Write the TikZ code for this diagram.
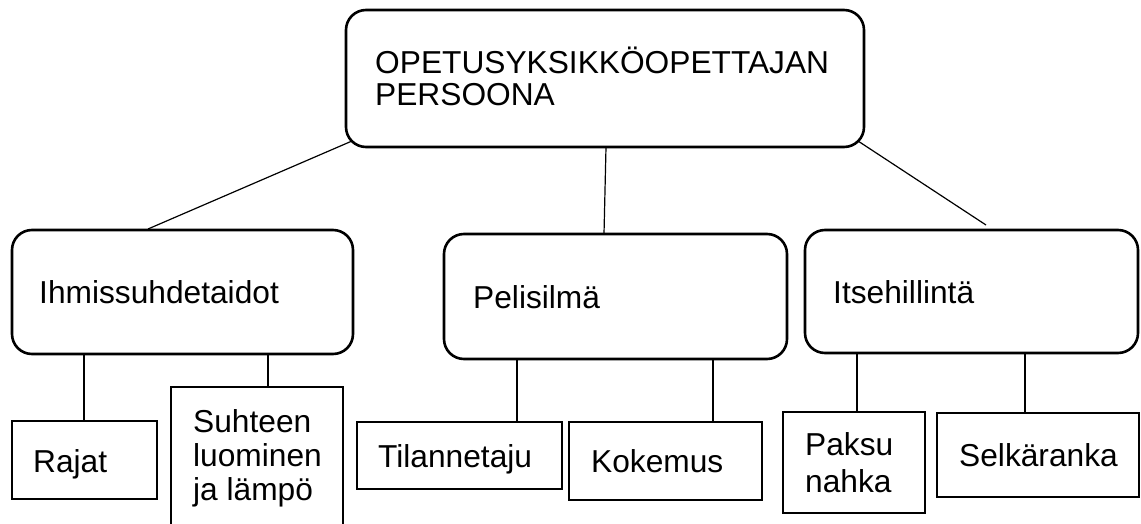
\documentclass[tikz,border=0pt]{standalone}
\usepackage{fontspec}
\setmainfont{Liberation Sans}
\usetikzlibrary{calc}
\begin{document}
\begin{tikzpicture}[x=1pt,y=-1pt,
  rbox/.style={draw, line width=2.6pt, rounded corners=20pt, inner sep=0pt, outer sep=0pt},
  sbox/.style={draw, line width=2.6pt, inner sep=0pt, outer sep=0pt},
  lbl/.style={anchor=base west, inner sep=0pt, align=left, font=\fontsize{31.7pt}{36pt}\selectfont},
  conn/.style={line width=1.2pt}]
\useasboundingbox (0,0) rectangle (1141,524);
\clip (0,0) rectangle (1141,524);
% boxes
\node[rbox, minimum width=518pt, minimum height=137pt] (top) at (605,78.5) {};
\node[rbox, minimum width=341pt, minimum height=124pt] (left) at (182.5,292) {};
\node[rbox, minimum width=343pt, minimum height=125pt] (mid) at (615.5,296.5) {};
\node[rbox, minimum width=333pt, minimum height=123pt] (right) at (971.5,291.5) {};
\node[sbox, minimum width=145pt, minimum height=78pt] (rajat) at (84.5,460) {};
\node[sbox, minimum width=172pt, minimum height=158pt] (suhteen) at (257,466) {};
\node[sbox, minimum width=205pt, minimum height=67pt] (tilan) at (459.5,455.5) {};
\node[sbox, minimum width=193pt, minimum height=78pt] (kokemus) at (665.5,461) {};
\node[sbox, minimum width=142pt, minimum height=101pt] (paksu) at (854,462.5) {};
\node[sbox, minimum width=202pt, minimum height=84pt] (selka) at (1038,455) {};
% texts (base anchor = baseline of the last line)
\node[lbl, font=\fontsize{31.7pt}{32pt}\selectfont] (ttop) at (375,106) {OPETUSYKSIKKÖOPETTAJAN\\PERSOONA};
\node[lbl] (tleft) at (39,303) {Ihmissuhdetaidot};
\node[lbl] (tmid) at (473,308) {Pelisilmä};
\node[lbl] (tright) at (833,303) {Itsehillintä};
\node[lbl] (trajat) at (33,472) {Rajat};
\node[lbl, font=\fontsize{31.7pt}{34pt}\selectfont] (tsuhteen) at (193,500) {Suhteen\\luominen\\ja lämpö};
\node[lbl, font=\fontsize{31.7pt}{37pt}\selectfont] (tpaksu) at (805,492) {Paksu\\nahka};
\node[lbl] (ttilan) at (378,467) {Tilannetaju};
\node[lbl] (tkokemus) at (591,472) {Kokemus};
\node[lbl] (tselka) at (959,466) {Selkäranka};
% connectors
\draw[conn] ($(top.south west)+(6,-6)$) -- ($(left.north west)+(136,-1)$);
\draw[conn] ($(top.south)+(1,0)$) -- ($(mid.north west)+(160,0)$);
\draw[conn] ($(top.south east)+(-6,-6)$) -- ($(right.north west)+(181,-5)$);
\draw[conn] ($(left.south west)+(72,0)$) -- ($(rajat.north west)+(72,0)$);
\draw[conn] ($(left.south west)+(256,0)$) -- ($(suhteen.north west)+(97,0)$);
\draw[conn] ($(mid.south west)+(73,0)$) -- ($(tilan.north west)+(160,0)$);
\draw[conn] ($(mid.south west)+(269,0)$) -- ($(kokemus.north west)+(144,0)$);
\draw[conn] ($(right.south west)+(52,0)$) -- ($(paksu.north west)+(74,0)$);
\draw[conn] ($(right.south west)+(220,0)$) -- ($(selka.north west)+(88,0)$);
\end{tikzpicture}
\end{document}
